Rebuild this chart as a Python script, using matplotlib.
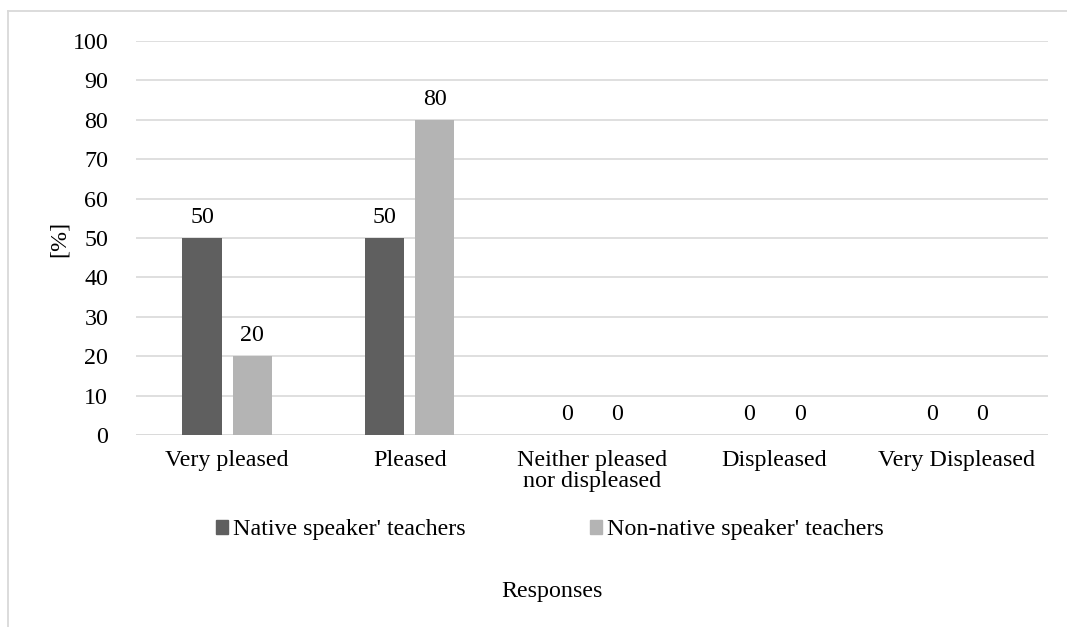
import numpy as np
import matplotlib
matplotlib.use('Agg')
from matplotlib import pyplot as plt
from matplotlib.patches import Patch
from matplotlib.lines import Line2D

# survey answers, percent of each teacher group
categories = ['Very pleased', 'Pleased', 'Neither pleased\nnor displeased', 'Displeased', 'Very Displeased']
native = [50, 50, 0, 0, 0]
non_native = [20, 80, 0, 0, 0]
series_names = ["Native speaker' teachers", "Non-native speaker' teachers"]
yticks = [0, 10, 20, 30, 40, 50, 60, 70, 80, 90, 100]

dark = '#5f5f5f'
light = '#b4b4b4'
grid_col = '#d9d9d9'

plt.rcParams['font.family'] = ['Liberation Serif', 'DejaVu Serif']
plt.rcParams['font.size'] = 17.3

fig = plt.figure(figsize=(10.67, 6.27), dpi=100)
ax = fig.add_axes([136 / 1067, 1 - 435 / 627, (1048 - 136) / 1067, (435 - 41) / 627])

x = np.arange(len(categories))
w = 0.215
off = 0.138
b1 = ax.bar(x - off, native, width=w, color=dark, zorder=3)
b2 = ax.bar(x + off, non_native, width=w, color=light, zorder=3)
ax.bar_label(b1, padding=7)
ax.bar_label(b2, padding=7)

ax.set_xlim(-0.5, len(categories) - 0.5)
ax.set_ylim(0, 100)
ax.set_yticks(yticks)
ax.set_xticks(x)
ax.set_xticklabels(categories, linespacing=1.0)
ax.tick_params(axis='both', length=0)
ax.tick_params(axis='y', pad=20)
ax.tick_params(axis='x', pad=11)
ax.grid(axis='y', color=grid_col, lw=1.2, zorder=0)
for s in ax.spines.values():
    s.set_visible(False)
ax.axhline(0, color=grid_col, lw=1.2, zorder=2)

fig.text(59 / 1067, 1 - 239 / 627, '[%]', rotation=90, ha='center', va='center')

handles = [Patch(color=dark), Patch(color=light)]
fig.legend(handles, series_names, loc='center', bbox_to_anchor=(550 / 1067, 1 - 530 / 627),
           ncol=2, frameon=False, handlelength=0.5, handleheight=0.5,
           handletextpad=0.2, columnspacing=5.2, borderaxespad=0, borderpad=0)

fig.text(552 / 1067, 1 - 592 / 627, 'Responses', ha='center', va='center')

# outer chart border (top and left edges only are inside the image)
fx = 8 / 1067
fy = 1 - 11 / 627
fig.add_artist(Line2D([fx, 1], [fy, fy], color=grid_col, lw=1.3, transform=fig.transFigure))
fig.add_artist(Line2D([fx, fx], [0, fy], color=grid_col, lw=1.3, transform=fig.transFigure))

fig.savefig('out.png', dpi=100)
